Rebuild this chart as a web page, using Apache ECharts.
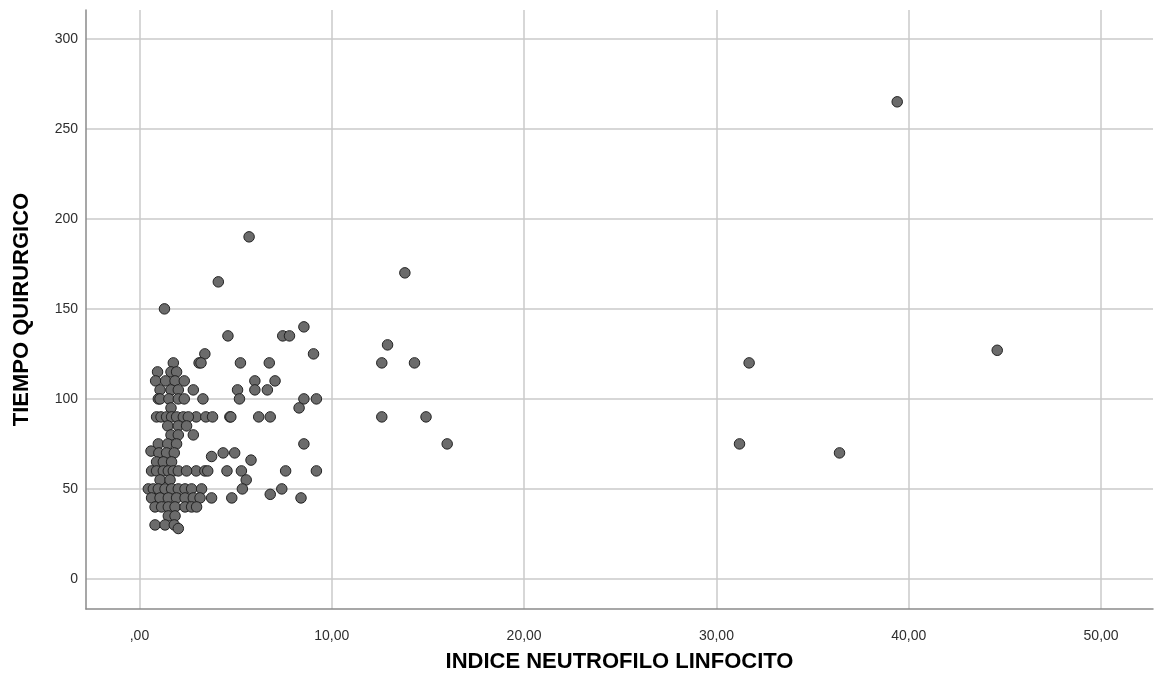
<!DOCTYPE html>
<html>
<head>
<meta charset="utf-8">
<script src="https://cdn.jsdelivr.net/npm/echarts@6/dist/echarts.min.js"></script>
<style>
  html, body { margin: 0; padding: 0; background: #ffffff; }
  #chart { width: 1160px; height: 678px; }
</style>
</head>
<body>
<div id="chart"></div>
<script>
// Índice neutrófilo/linfocito (x) frente a tiempo quirúrgico en minutos (y)
const indiceNL = [
  39.4, 31.7, 44.6, 31.2, 36.4,
  13.8, 12.9, 12.6, 14.3, 12.6, 14.9, 16.0,
  5.7, 4.1, 1.3, 8.55, 4.6, 7.45, 7.8, 3.4, 9.05,
  3.1, 3.2, 5.25, 6.75, 6.0, 7.05, 2.8, 5.1, 6.0, 6.65,
  3.3, 5.2, 8.55, 9.2, 8.3,
  2.95, 3.45, 3.8, 4.7, 4.75, 6.2, 6.8,
  2.8, 8.55, 3.75, 4.35, 4.95, 5.8,
  2.95, 3.4, 3.55, 4.55, 5.3, 7.6, 9.2,
  5.55, 5.35, 7.4, 3.75, 4.8, 6.8, 8.4,
  1.76,
  0.94, 1.64, 1.93,
  0.84, 1.36, 1.85, 2.33,
  1.07, 1.64, 2.02,
  0.98, 1.07, 1.53, 2.02, 2.33,
  1.64,
  0.89, 1.12, 1.41, 1.67, 1.93, 2.28, 2.54,
  1.47, 2.02, 2.45,
  1.64, 2.02,
  0.98, 1.47, 1.93,
  0.6,
  1.01, 1.41, 1.81,
  0.89, 1.24, 1.67,
  0.63, 0.89, 1.24, 1.5, 1.76, 2.02, 2.45,
  1.07, 1.59,
  0.46, 0.72, 0.98, 1.33, 1.67, 2.02, 2.37, 2.71, 3.23,
  0.63, 1.07, 1.5, 1.93, 2.37, 2.8, 3.15,
  0.81, 1.15, 1.5, 1.85, 2.37, 2.71, 2.97,
  1.5, 1.85,
  0.81, 1.33, 1.81,
  2.02
];
const tiempoQuirurgico = [
  265, 120, 127, 75, 70,
  170, 130, 120, 120, 90, 90, 75,
  190, 165, 150, 140, 135, 135, 135, 125, 125,
  120, 120, 120, 120, 110, 110, 105, 105, 105, 105,
  100, 100, 100, 100, 95,
  90, 90, 90, 90, 90, 90, 90,
  80, 75, 68, 70, 70, 66,
  60, 60, 60, 60, 60, 60, 60,
  55, 50, 50, 45, 45, 47, 45,
  120,
  115, 115, 115,
  110, 110, 110, 110,
  105, 105, 105,
  100, 100, 100, 100, 100,
  95,
  90, 90, 90, 90, 90, 90, 90,
  85, 85, 85,
  80, 80,
  75, 75, 75,
  71,
  70, 70, 70,
  65, 65, 65,
  60, 60, 60, 60, 60, 60, 60,
  55, 55,
  50, 50, 50, 50, 50, 50, 50, 50, 50,
  45, 45, 45, 45, 45, 45, 45,
  40, 40, 40, 40, 40, 40, 40,
  35, 35,
  30, 30, 30,
  28
];
const xTicks = [0, 10, 20, 30, 40, 50];
const yTicks = [0, 50, 100, 150, 200, 250, 300];

const puntos = indiceNL.map((x, i) => [x, tiempoQuirurgico[i]]);

const fmtComa = v => v === 0 ? ',00' : v.toFixed(2).replace('.', ',');

const gridColor = '#cacaca';
const axisColor = '#8a8a8a';
const fontFam = 'Liberation Sans, Arial, sans-serif';
const labelStyle = { color: '#2e2e2e', fontSize: 14, fontFamily: fontFam };
const nameStyle = { color: '#000000', fontSize: 22, fontWeight: 'bold', fontFamily: fontFam };

const chart = echarts.init(document.getElementById('chart'), null, { renderer: 'canvas' });
chart.setOption({
  animation: false,
  backgroundColor: '#ffffff',
  grid: { left: 86, right: 7, top: 10, bottom: 69, containLabel: false },
  xAxis: {
    type: 'value',
    min: -2.78,
    max: 52.7,
    name: 'INDICE NEUTROFILO LINFOCITO',
    nameLocation: 'middle',
    nameGap: 42,
    nameTextStyle: nameStyle,
    axisLine: { show: true, onZero: false, lineStyle: { color: axisColor, width: 1.5 } },
    axisTick: { show: false, customValues: xTicks },
    axisLabel: { customValues: xTicks, formatter: fmtComa, margin: 20, ...labelStyle },
    splitLine: { show: true, customValues: xTicks, lineStyle: { color: gridColor, width: 1.5 } }
  },
  yAxis: {
    type: 'value',
    min: -16.7,
    max: 316,
    name: 'TIEMPO QUIRURGICO',
    nameLocation: 'middle',
    nameGap: 53,
    nameTextStyle: nameStyle,
    axisLine: { show: true, onZero: false, lineStyle: { color: axisColor, width: 1.5 } },
    axisTick: { show: false, customValues: yTicks },
    axisLabel: { customValues: yTicks, margin: 8, ...labelStyle },
    splitLine: { show: true, customValues: yTicks, lineStyle: { color: gridColor, width: 1.5 } }
  },
  series: [{
    type: 'scatter',
    data: puntos,
    symbol: 'circle',
    symbolSize: 10.5,
    itemStyle: { color: '#6b6b6b', borderColor: '#222222', borderWidth: 1, opacity: 1 },
    emphasis: { disabled: true }
  }]
});
</script>
</body>
</html>
